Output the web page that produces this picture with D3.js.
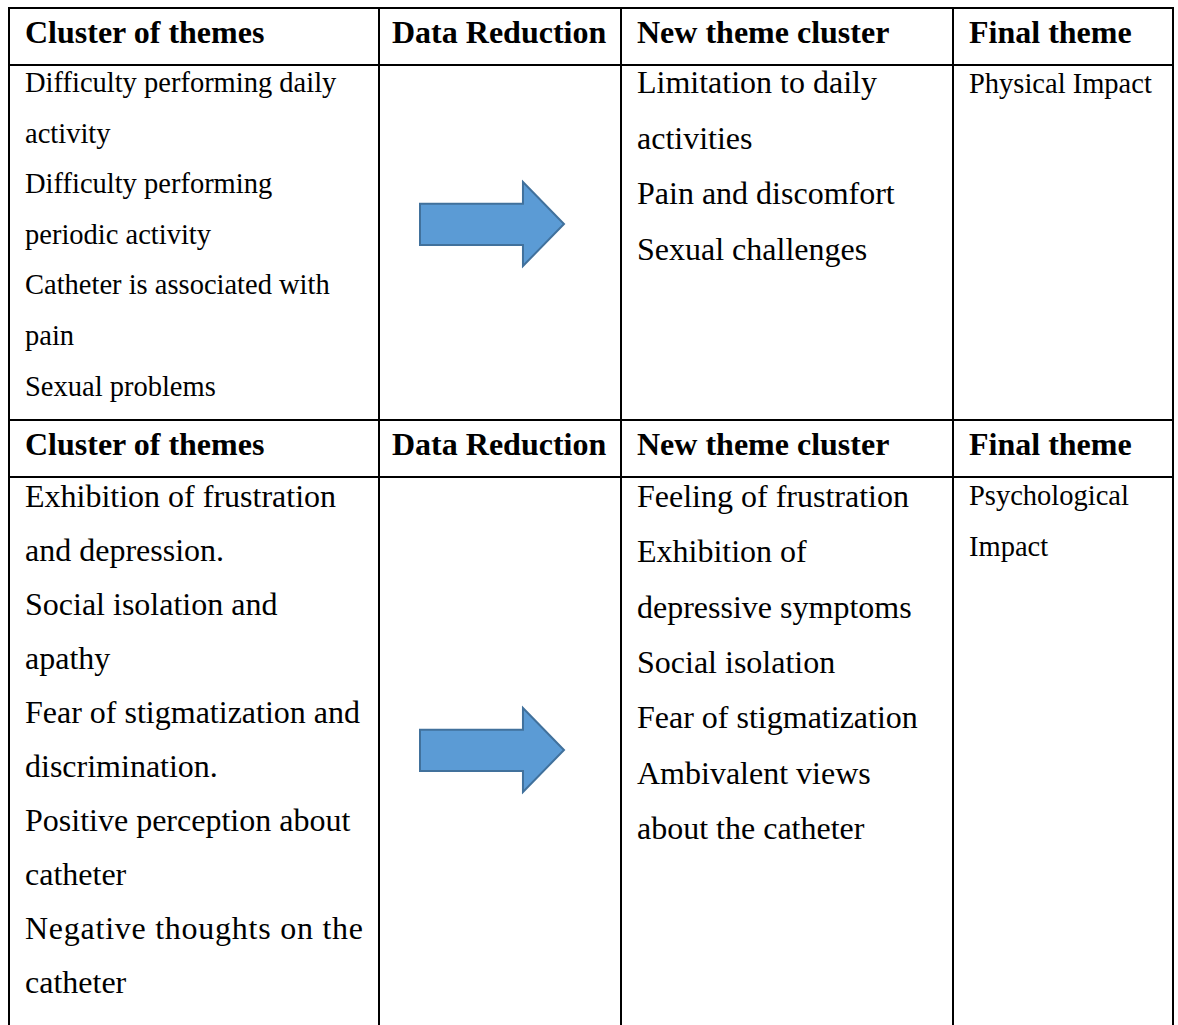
<!DOCTYPE html>
<html>
<head>
<meta charset="utf-8">
<script src="https://cdn.jsdelivr.net/npm/d3@7"></script>
<style>
  body { margin: 0; background: #fff; }
  svg { display: block; }
  text { font-family: "Liberation Serif", "Times New Roman", serif; fill: #000; }
</style>
</head>
<body>
<div id="chart"></div>
<script>
// table content
var headers = ["Cluster of themes", "Data Reduction", "New theme cluster", "Final theme"];

var physicalClusters = [
  "Difficulty performing daily",
  "activity",
  "Difficulty performing",
  "periodic activity",
  "Catheter is associated with",
  "pain",
  "Sexual problems"
];
var physicalNew = [
  "Limitation to daily",
  "activities",
  "Pain and discomfort",
  "Sexual challenges"
];
var physicalFinal = ["Physical Impact"];

var psychClusters = [
  "Exhibition of frustration",
  "and depression.",
  "Social isolation and",
  "apathy",
  "Fear of stigmatization and",
  "discrimination.",
  "Positive perception about",
  "catheter",
  "Negative  thoughts  on  the",
  "catheter"
];
var psychNew = [
  "Feeling of frustration",
  "Exhibition of",
  "depressive symptoms",
  "Social isolation",
  "Fear of stigmatization",
  "Ambivalent views",
  "about the catheter"
];
var psychFinal = ["Psychological", "Impact"];

var width = 1178;
var height = 1025;
var colEdges = [9, 379, 621, 953, 1173];
var pad = 15;
var arrowFill = "#5b9bd5";
var arrowStroke = "#41719c";

var svg = d3.select("#chart")
  .append("svg")
  .attr("width", width)
  .attr("height", height);

/* one table section */
function section(opts) {
  var g = svg.append("g");

  // header text
  g.selectAll(".head")
    .data(headers)
    .enter()
    .append("text")
    .attr("class", "head")
    .attr("x", (d, i) => colEdges[i] + (i == 1 ? 13 : pad + 1))
    .attr("y", opts.top + 35)
    .style("font-weight", "bold")
    .style("font-size", "32px")
    .text(d => d);

  // body columns
  opts.blocks.forEach(function(b) {
    g.append("g")
      .selectAll("text")
      .data(b.lines)
      .enter()
      .append("text")
      .attr("x", colEdges[b.col] + pad + 1)
      .attr("y", (d, i) => b.y0 + i * b.pitch)
      .style("font-size", b.size + "px")
      .each(function(d) {
        // justified line in the original
        if (/  /.test(d)) {
          d3.select(this)
            .attr("textLength", colEdges[b.col + 1] - colEdges[b.col] - pad * 2 - 2)
            .attr("lengthAdjust", "spacing");
        }
      })
      .text(d => d.replace(/  +/g, " "));
  });

  // arrow in the "Data Reduction" column
  var ax = d3.scaleLinear().domain([0, 1]).range([colEdges[1] + 41, colEdges[1] + 185]);
  var ay = d3.scaleLinear().domain([0, 1]).range([opts.arrowTop, opts.arrowTop + 84]);
  var shape = [[0, 0.26], [0.715, 0.26], [0.715, 0], [1, 0.5], [0.715, 1], [0.715, 0.75], [0, 0.75]];
  g.append("path")
    .attr("d", d3.line().x(d => ax(d[0])).y(d => ay(d[1])).curve(d3.curveLinearClosed)(shape))
    .attr("fill", arrowFill)
    .attr("stroke", arrowStroke)
    .attr("stroke-width", 2)
    .attr("stroke-linejoin", "miter");

  // grid lines
  var lines = g.append("g").attr("stroke", "#000").attr("stroke-width", 2);
  [opts.top, opts.top + 57].forEach(function(y) {
    lines.append("line").attr("x1", colEdges[0] - 1).attr("x2", colEdges[4] + 1).attr("y1", y).attr("y2", y);
  });
  colEdges.forEach(function(x) {
    lines.append("line").attr("x1", x).attr("x2", x).attr("y1", opts.top).attr("y2", opts.bottom);
  });
}

section({
  top: 8,
  bottom: 420,
  arrowTop: 182,
  blocks: [
    { col: 0, lines: physicalClusters, size: 28.5, y0: 92, pitch: 50.6 },
    { col: 2, lines: physicalNew, size: 32, y0: 93, pitch: 55.6 },
    { col: 3, lines: physicalFinal, size: 28.5, y0: 93, pitch: 51 }
  ]
});

section({
  top: 420,
  bottom: height,
  arrowTop: 708,
  blocks: [
    { col: 0, lines: psychClusters, size: 32, y0: 507, pitch: 54 },
    { col: 2, lines: psychNew, size: 32, y0: 507, pitch: 55.3 },
    { col: 3, lines: psychFinal, size: 28.5, y0: 505, pitch: 51 }
  ]
});
</script>
</body>
</html>
